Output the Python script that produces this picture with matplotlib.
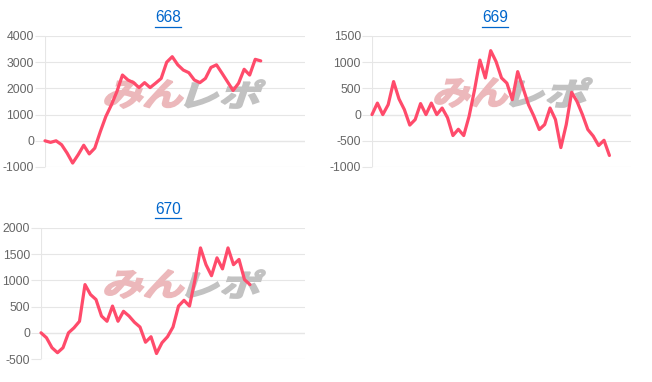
import matplotlib
matplotlib.use('Agg')
import matplotlib.pyplot as plt
from matplotlib.lines import Line2D
from matplotlib.textpath import TextPath
from matplotlib.patches import PathPatch
from matplotlib.font_manager import FontProperties
from matplotlib.transforms import Affine2D
import numpy as np

plt.rcParams['font.family'] = ['Liberation Sans', 'DejaVu Sans']
plt.rcParams['axes.unicode_minus'] = False

# machine numbers and their medal curves
titles = ['668', '669', '670']
p668 = [0, -60, 0, -150, -470, -850, -530, -170, -500, -280, 350, 930, 1370, 1880,
        2510, 2320, 2220, 2030, 2220, 2030, 2200, 2380, 3000, 3210, 2900, 2700, 2600,
        2320, 2220, 2380, 2800, 2900, 2580, 2250, 1920, 2200, 2730, 2510, 3110, 3050]
p669 = [0, 220, 0, 190, 630, 300, 95, -200, -95, 210, 0, 220, 0, 125, -60, -400,
        -280, -400, -30, 470, 1040, 700, 1220, 1010, 700, 600, 285, 820, 505, 190,
        -30, -285, -190, 125, -95, -630, -190, 425, 250, 0, -285, -410, -590, -490, -780]
p670 = [0, -95, -285, -380, -285, 0, 95, 220, 920, 730, 635, 320, 220, 510, 220,
        410, 320, 200, 110, -180, -75, -395, -190, -75, 110, 510, 620, 510, 1015,
        1620, 1300, 1090, 1430, 1220, 1620, 1300, 1400, 1015, 920]
series = [p668, p669, p670]
y_ticks = [np.arange(-1000, 4001, 1000), np.arange(-1000, 1501, 500), np.arange(-500, 2001, 500)]
n_slots = [47, 48, 48]

line_color = '#ff4b6b'
grid_color = '#e6e6e6'
zero_color = '#bdbdbd'
W, H = 652, 382

# axes boxes in pixels: left, right, top, bottom
boxes = [(45, 305, 36, 167), (372, 631, 36, 167), (41, 305, 228, 359)]
title_pos = [(168, 18), (495, 18), (168, 209)]
# watermark: x start, x split, x end, top, bottom (pixels)
marks = [(105, 184, 265, 80, 108), (435, 509, 592, 78, 107), (105, 185, 265, 270, 298)]

wm_font = FontProperties(family='Noto Sans CJK JP', weight='bold')


def watermark(ax, word, x0, x1, top, bottom, color):
    path = TextPath((0, 0), word, size=30, prop=wm_font)
    path = Affine2D().skew_deg(14, 0).transform_path(path)
    ext = path.get_extents()
    tr = (Affine2D().translate(-ext.x0, -ext.y0)
          .scale((x1 - x0) / ext.width, (bottom - top) / ext.height)
          .translate(x0, H - bottom))
    patch = PathPatch(tr.transform_path(path), facecolor=color, edgecolor=color,
                      lw=1.3, transform=Affine2D(), zorder=2, clip_on=False)
    ax.add_artist(patch)


fig = plt.figure(figsize=(W / 100, H / 100), dpi=100)

title_texts = []
for i in range(3):
    l, r, t, b = boxes[i]
    ax = fig.add_axes([l / W, 1 - b / H, (r - l) / W, (b - t) / H])
    vals = series[i]
    ax.plot(np.arange(len(vals)), vals, color=line_color, lw=2.3,
            solid_joinstyle='round', solid_capstyle='round', zorder=3, clip_on=False)
    ax.set_xlim(0, n_slots[i])
    ax.set_ylim(y_ticks[i][0], y_ticks[i][-1])
    ax.set_yticks(y_ticks[i])
    ax.set_xticks([])
    ax.grid(axis='y', color=grid_color, lw=0.8, zorder=0)
    ax.axhline(0, color=zero_color, lw=0.8, zorder=1)
    ax.axvline(0, color=grid_color, lw=0.8, zorder=1)
    for s in ax.spines.values():
        s.set_visible(False)
    ax.tick_params(axis='y', length=7, width=0.8, color=grid_color, pad=1,
                   labelsize=8.8, labelcolor='#666666')

    xs, xm, xe, mt, mb = marks[i]
    watermark(ax, 'みん', xs, xm - 1, mt, mb, '#ecb8bb')
    watermark(ax, 'レポ', xm + 1, xe, mt, mb, '#c2c2c2')

    tx, ty = title_pos[i]
    title_texts.append(fig.text(tx / W, 1 - ty / H, titles[i], ha='center', va='center',
                                fontsize=11.2, color='#0066cc'))

# underline the titles like links
fig.canvas.draw()
renderer = fig.canvas.get_renderer()
for t in title_texts:
    bb = t.get_window_extent(renderer)
    y = bb.y0 - 1
    fig.add_artist(Line2D([bb.x0 / W, bb.x1 / W], [y / H, y / H], color='#0066cc',
                          lw=0.9, transform=fig.transFigure))

fig.savefig('out.png', dpi=100)
